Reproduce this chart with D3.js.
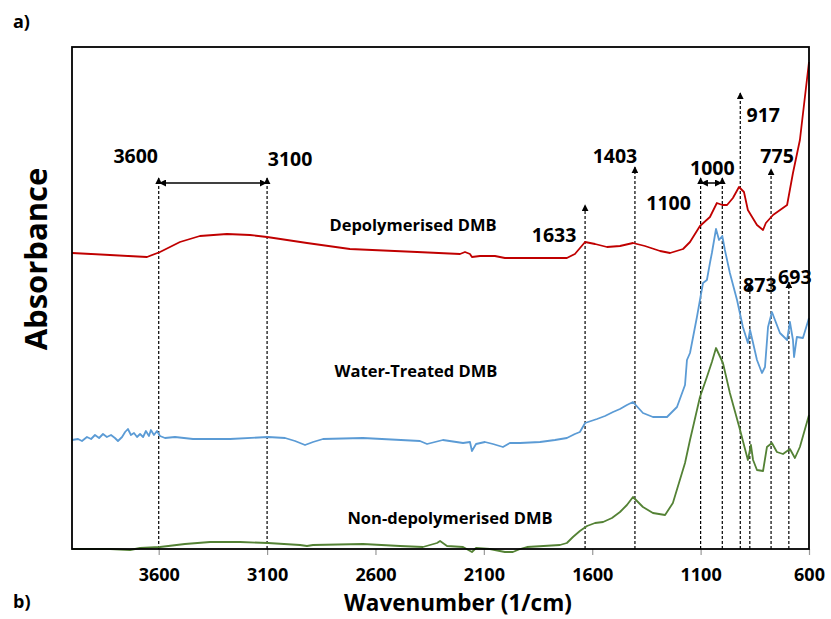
<!DOCTYPE html>
<html>
<head>
<meta charset="utf-8">
<script src="https://cdn.jsdelivr.net/npm/d3@7"></script>
<style>
  html, body { margin: 0; padding: 0; background: #fff; }
  svg { display: block; font-family: "Open Sans", "Liberation Sans", sans-serif; }
</style>
</head>
<body>
<svg id="chart" width="831" height="619"></svg>
<script>
// FTIR spectra: [wavenumber (1/cm), absorbance (a.u., offset per trace)]
const depolymerised = [
  [4000,0.296],[3825,0.294],[3654,0.292],[3594,0.297],[3502,0.307],[3410,0.313],
  [3285,0.315],[3179,0.314],[3100,0.312],[2916,0.306],[2718,0.300],[2408,0.297],
  [2210,0.295],[2187,0.297],[2164,0.295],[2155,0.292],[2118,0.293],[2049,0.293],
  [2003,0.291],[1966,0.291],[1717,0.291],[1680,0.295],[1633,0.307],[1587,0.305],
  [1532,0.302],[1472,0.303],[1412,0.306],[1357,0.303],[1287,0.298],[1241,0.296],
  [1181,0.300],[1149,0.307],[1103,0.323],[1057,0.332],[1025,0.346],[1000,0.344],
  [978,0.344],[951,0.351],[923,0.362],[900,0.357],[882,0.339],[840,0.324],
  [812,0.319],[799,0.326],[766,0.334],[701,0.344],[674,0.376],[642,0.409],[600,0.487]
];

const waterTreated = [
  [4000,0.109],[3972,0.110],[3954,0.108],[3931,0.112],[3912,0.110],[3894,0.114],
  [3875,0.111],[3857,0.115],[3839,0.112],[3820,0.114],[3802,0.111],[3788,0.108],
  [3769,0.112],[3755,0.117],[3742,0.120],[3728,0.114],[3714,0.116],[3700,0.112],
  [3686,0.115],[3672,0.112],[3659,0.118],[3645,0.113],[3636,0.119],[3622,0.114],
  [3608,0.118],[3594,0.113],[3571,0.111],[3525,0.112],[3442,0.110],[3271,0.110],
  [3096,0.112],[3017,0.111],[2971,0.108],[2925,0.104],[2888,0.107],[2842,0.110],
  [2658,0.111],[2395,0.108],[2362,0.105],[2289,0.109],[2196,0.106],[2164,0.107],
  [2155,0.098],[2136,0.105],[2095,0.107],[2058,0.105],[2012,0.102],[1980,0.106],
  [1933,0.106],[1841,0.107],[1772,0.109],[1717,0.111],[1680,0.115],[1657,0.117],
  [1633,0.126],[1578,0.130],[1541,0.133],[1504,0.137],[1472,0.140],[1440,0.144],
  [1412,0.147],[1366,0.136],[1320,0.132],[1255,0.132],[1209,0.142],[1172,0.164],
  [1163,0.189],[1149,0.196],[1117,0.232],[1103,0.249],[1089,0.266],[1071,0.269],
  [1057,0.286],[1048,0.296],[1029,0.320],[1015,0.309],[1000,0.313],[988,0.299],
  [965,0.276],[932,0.249],[905,0.222],[882,0.206],[872,0.219],[858,0.206],
  [840,0.189],[817,0.176],[803,0.182],[789,0.222],[771,0.237],[757,0.229],
  [734,0.216],[701,0.209],[688,0.227],[674,0.209],[669,0.192],[656,0.212],
  [628,0.211],[600,0.231]
];

const nonDepolymerised = [
  [4000,0.000],[3825,0.000],[3732,-0.001],[3686,0.001],[3594,0.002],[3479,0.005],
  [3363,0.007],[3225,0.007],[3096,0.006],[2948,0.004],[2916,0.003],[2888,0.004],
  [2658,0.005],[2487,0.003],[2381,0.002],[2316,0.006],[2302,0.008],[2270,0.003],
  [2196,0.002],[2155,-0.003],[2136,0.001],[2072,0.000],[2003,-0.003],[1966,-0.003],
  [1933,0.000],[1901,0.002],[1749,0.004],[1717,0.006],[1689,0.012],[1657,0.018],
  [1624,0.023],[1587,0.026],[1550,0.027],[1509,0.031],[1472,0.037],[1440,0.044],
  [1412,0.052],[1366,0.042],[1320,0.036],[1264,0.034],[1228,0.046],[1172,0.086],
  [1149,0.109],[1135,0.122],[1103,0.152],[1071,0.172],[1048,0.187],[1029,0.201],
  [997,0.186],[965,0.156],[918,0.119],[882,0.089],[868,0.104],[858,0.089],
  [840,0.079],[812,0.078],[794,0.102],[771,0.106],[748,0.097],[720,0.095],
  [688,0.100],[665,0.091],[642,0.102],[600,0.134]
];

const seriesNames = ["Depolymerised DMB", "Water-Treated DMB", "Non-depolymerised DMB"];
const seriesColors = ["#c00000", "#5b9bd5", "#548235"];

// Axis ticks
const xTicks = [3600, 3100, 2600, 2100, 1600, 1100, 600];

// Marked bands: wavenumber and height reached by the arrow (absorbance units)
const bandWavenumbers = [3600, 3100, 1633, 1403, 1100, 1000, 917, 873, 775, 693];
const bandArrowTops   = [0.371, 0.371, 0.344, 0.382, 0.371, 0.371, 0.456, 0.265, 0.380, 0.267];
// Ranges drawn as horizontal double-headed arrows (pairs of band wavenumbers)
const bandRanges = [[3600, 3100], [1100, 1000]];

// ---- layout ----
const plot = { left: 72, right: 809, top: 47, bottom: 549 };

const x = d3.scaleLinear().domain([4000, 600]).range([plot.left, plot.right]);
const y = d3.scaleLinear().domain([0, 0.502]).range([plot.bottom, plot.top]);

const svg = d3.select("#chart");

const defs = svg.append("defs");
defs.append("marker")
  .attr("id", "head")
  .attr("viewBox", "0 0 10 10")
  .attr("refX", 9).attr("refY", 5)
  .attr("markerWidth", 7).attr("markerHeight", 7)
  .attr("markerUnits", "userSpaceOnUse")
  .attr("orient", "auto-start-reverse")
  .append("path").attr("d", "M0,0 L10,5 L0,10 Z").attr("fill", "#000");

// x axis with ticks below the frame
const xAxis = d3.axisBottom(x).tickValues(xTicks).tickSize(6).tickFormat(d3.format("d"));
const gx = svg.append("g")
  .attr("transform", `translate(0,${plot.bottom})`)
  .call(xAxis);
gx.select(".domain").remove();
gx.selectAll(".tick line").attr("stroke", "#999").attr("stroke-width", 1.2);
gx.selectAll(".tick text")
  .attr("y", 25)
  .attr("dy", null)
  .attr("dominant-baseline", "central")
  .attr("font-family", "'Open Sans', sans-serif")
  .attr("font-weight", 700)
  .attr("font-size", 18)
  .attr("fill", "#000");

// dashed band markers
const bands = bandWavenumbers.map((w, i) => ({ w, top: bandArrowTops[i] }));
svg.append("g").selectAll("line")
  .data(bands).join("line")
  .attr("x1", d => x(d.w)).attr("x2", d => x(d.w))
  .attr("y1", y(0)).attr("y2", d => y(d.top))
  .attr("stroke", "#000")
  .attr("stroke-width", 1.2)
  .attr("stroke-dasharray", "3,2")
  .attr("marker-end", "url(#head)");

// range arrows
const topOf = w => bands.find(b => b.w === w).top;
svg.append("g").selectAll("line")
  .data(bandRanges).join("line")
  .attr("x1", d => x(d[0]) + 1).attr("x2", d => x(d[1]) - 1)
  .attr("y1", d => y(topOf(d[0])) + 5).attr("y2", d => y(topOf(d[0])) + 5)
  .attr("stroke", "#000")
  .attr("stroke-width", 1.5)
  .attr("marker-start", "url(#head)")
  .attr("marker-end", "url(#head)");

// spectra
const line = d3.line().x(d => x(d[0])).y(d => y(d[1]));
const allSeries = [depolymerised, waterTreated, nonDepolymerised];
svg.append("g").selectAll("path")
  .data(allSeries).join("path")
  .attr("d", line)
  .attr("fill", "none")
  .attr("stroke", (d, i) => seriesColors[i])
  .attr("stroke-width", 1.8)
  .attr("stroke-linejoin", "round");

// band labels, placed relative to the arrow tip
const labelOffsets = {
  3600: [-23, -23], 3100: [23, -20], 1633: [-31, 29], 1403: [-20, -12],
  1100: [-32, 24], 1000: [-10, -11], 917: [23, 21], 873: [10, 0],
  775: [6, -14], 693: [6, -6]
};
svg.append("g").selectAll("text")
  .data(bands).join("text")
  .attr("x", d => x(d.w) + labelOffsets[d.w][0])
  .attr("y", d => y(d.top) + labelOffsets[d.w][1])
  .attr("text-anchor", "middle")
  .attr("dominant-baseline", "central")
  .attr("font-weight", 700)
  .attr("font-size", 19.5)
  .text(d => d.w);

// series labels
const seriesLabelPos = [[413, 224], [416, 370], [450, 517]];
svg.append("g").selectAll("text")
  .data(seriesNames).join("text")
  .attr("x", (d, i) => seriesLabelPos[i][0])
  .attr("y", (d, i) => seriesLabelPos[i][1])
  .attr("text-anchor", "middle")
  .attr("dominant-baseline", "central")
  .attr("font-weight", 700)
  .attr("font-size", 16.5)
  .text(d => d);

// plot frame
svg.append("rect")
  .attr("x", plot.left).attr("y", plot.top)
  .attr("width", plot.right - plot.left).attr("height", plot.bottom - plot.top)
  .attr("fill", "none").attr("stroke", "#000").attr("stroke-width", 1.8);

// axis titles
svg.append("text")
  .attr("x", 458).attr("y", 602)
  .attr("text-anchor", "middle").attr("dominant-baseline", "central")
  .attr("font-weight", 700).attr("font-size", 22.5)
  .text("Wavenumber (1/cm)");

svg.append("text")
  .attr("transform", "translate(35,259) rotate(-90)")
  .attr("text-anchor", "middle").attr("dominant-baseline", "central")
  .attr("font-weight", 700).attr("font-size", 31)
  .text("Absorbance");

// panel tags
svg.append("text").attr("x", 13).attr("y", 21)
  .attr("dominant-baseline", "central")
  .attr("font-weight", 700).attr("font-size", 18).text("a)");
svg.append("text").attr("x", 13).attr("y", 601)
  .attr("dominant-baseline", "central")
  .attr("font-weight", 700).attr("font-size", 18).text("b)");
</script>
</body>
</html>
